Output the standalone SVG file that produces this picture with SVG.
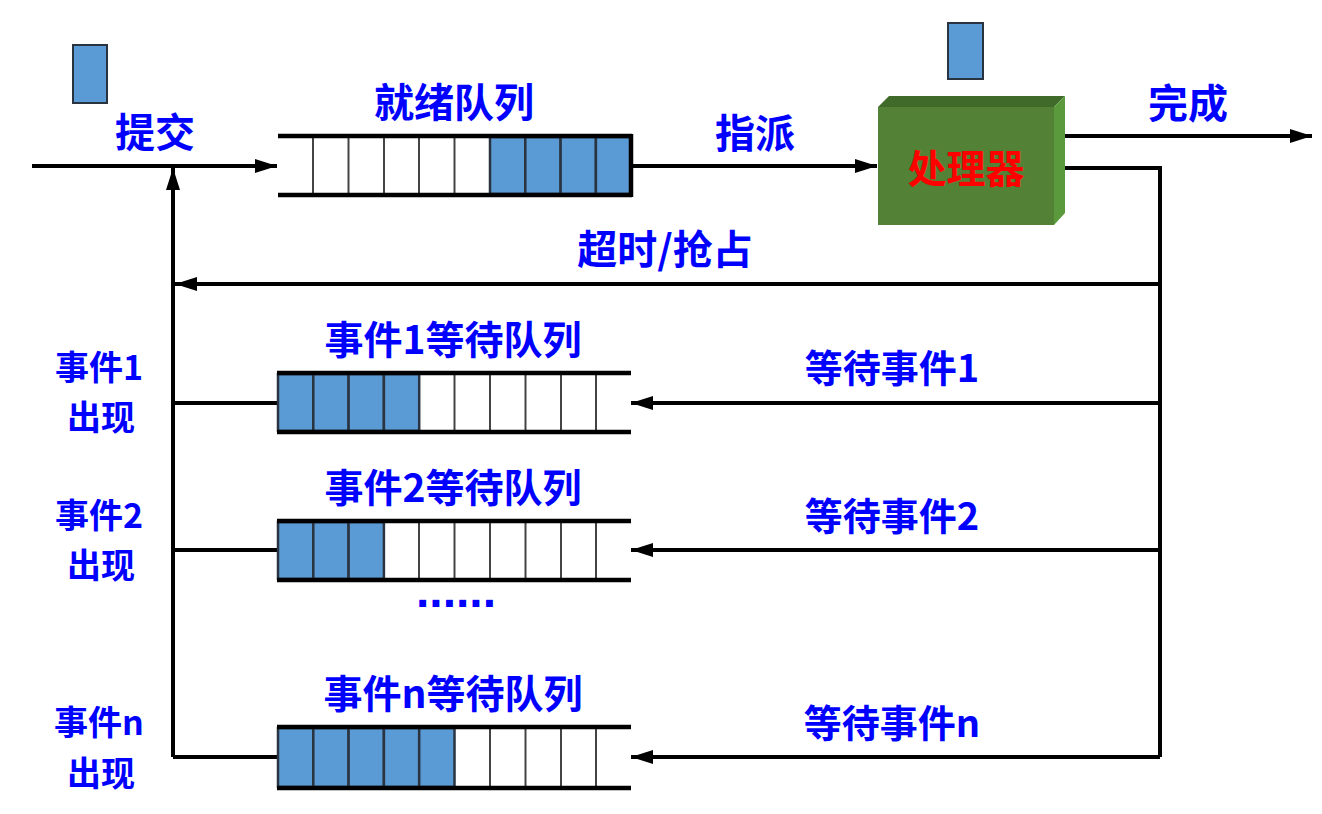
<svg xmlns="http://www.w3.org/2000/svg" width="1322" height="814" viewBox="0 0 1322 814">
<style>
.t{font-family:"Noto Sans CJK SC","Liberation Sans",sans-serif;font-weight:bold;font-size:40px;fill:#0000FF;text-anchor:middle;dominant-baseline:central}
.q{font-size:39px}
.w{font-size:38px}
.s{font-size:34px}
.ln{stroke:#000;stroke-width:4;fill:none}
.cell{fill:#fff;stroke:#444;stroke-width:2}
.bc{fill:#5B9BD5;stroke:#2a3440;stroke-width:2.5}
.rail{stroke:#000;stroke-width:4.5}
</style>
<defs>
<marker id="ah" markerUnits="userSpaceOnUse" markerWidth="22" markerHeight="14" refX="22" refY="7" orient="auto">
<path d="M0,0 L22,7 L0,14 Z" fill="#000"/>
</marker>
</defs>
<g id="connectors">
<line class="ln" x1="32" y1="166" x2="277" y2="166" marker-end="url(#ah)"/>
<line class="ln" x1="631" y1="166" x2="877" y2="166" marker-end="url(#ah)"/>
<line class="ln" x1="1065" y1="136" x2="1312" y2="136" marker-end="url(#ah)"/>
<polyline class="ln" points="1065,168 1160,168 1160,757"/>
<line class="ln" x1="1160" y1="284" x2="175" y2="284" marker-end="url(#ah)"/>
<line class="ln" x1="1160" y1="403" x2="631" y2="403" marker-end="url(#ah)"/>
<line class="ln" x1="1160" y1="550" x2="631" y2="550" marker-end="url(#ah)"/>
<line class="ln" x1="1160" y1="757" x2="631" y2="757" marker-end="url(#ah)"/>
<line class="ln" x1="173" y1="757" x2="173" y2="168" marker-end="url(#ah)"/>
<line class="ln" x1="173" y1="403" x2="278" y2="403"/>
<line class="ln" x1="173" y1="550" x2="278" y2="550"/>
<line class="ln" x1="173" y1="757" x2="278" y2="757"/>
</g>
<g id="job-submit">
<rect x="73" y="45" width="34" height="58" fill="#5B9BD5" stroke="#2a3440" stroke-width="2"/>
<text class="t" x="155" y="130">提交</text>
</g>
<g id="ready-queue">
<line class="cell" x1="313" y1="137" x2="313" y2="195"/>
<line class="cell" x1="348.5" y1="137" x2="348.5" y2="195"/>
<line class="cell" x1="384" y1="137" x2="384" y2="195"/>
<line class="cell" x1="419" y1="137" x2="419" y2="195"/>
<line class="cell" x1="454.5" y1="137" x2="454.5" y2="195"/>
<rect class="bc" x="490" y="137" width="35.3" height="57"/>
<rect class="bc" x="525.3" y="137" width="35.3" height="57"/>
<rect class="bc" x="560.6" y="137" width="35.3" height="57"/>
<rect class="bc" x="595.9" y="137" width="35.1" height="57"/>
<line class="rail" x1="278" y1="136" x2="632" y2="136"/>
<line class="rail" x1="278" y1="195" x2="632" y2="195"/>
<line class="rail" x1="631" y1="134" x2="631" y2="197"/>
<text class="t" x="454" y="100">就绪队列</text>
</g>
<text class="t" x="755" y="131">指派</text>
<g id="processor">
<rect x="948" y="23" width="35" height="56" fill="#5B9BD5" stroke="#2a3440" stroke-width="2"/>
<polygon points="878,107 889,96 1065,96 1054,107" fill="#3f6a29"/>
<polygon points="1054,107 1065,96 1065,213 1054,225" fill="#5b9a3c"/>
<rect x="878" y="107" width="176" height="118" fill="#538135"/>
<text class="t" x="966" y="166" style="fill:#FF0000;font-size:39px">处理器</text>
</g>
<text class="t" x="1188" y="101">完成</text>
<text class="t" x="665" y="247">超时/抢占</text>
<g id="event1-queue">
<rect class="bc" x="278" y="374" width="35.3" height="57"/>
<rect class="bc" x="313.3" y="374" width="35.3" height="57"/>
<rect class="bc" x="348.6" y="374" width="35.3" height="57"/>
<rect class="bc" x="383.9" y="374" width="35.3" height="57"/>
<line class="cell" x1="454.5" y1="374" x2="454.5" y2="432"/>
<line class="cell" x1="490" y1="374" x2="490" y2="432"/>
<line class="cell" x1="525.5" y1="374" x2="525.5" y2="432"/>
<line class="cell" x1="561" y1="374" x2="561" y2="432"/>
<line class="cell" x1="596" y1="374" x2="596" y2="432"/>
<line class="rail" x1="277" y1="373" x2="631" y2="373"/>
<line class="rail" x1="277" y1="432" x2="631" y2="432"/>
<text class="t q" x="453" y="337">事件1等待队列</text>
<text class="t w" x="892" y="365">等待事件1</text>
<text class="t s" x="99" y="365">事件1</text>
<text class="t s" x="101" y="415">出现</text>
</g>
<g id="event2-queue">
<rect class="bc" x="278" y="522" width="35.3" height="57"/>
<rect class="bc" x="313.3" y="522" width="35.3" height="57"/>
<rect class="bc" x="348.6" y="522" width="35.3" height="57"/>
<line class="cell" x1="419" y1="522" x2="419" y2="580"/>
<line class="cell" x1="454.5" y1="522" x2="454.5" y2="580"/>
<line class="cell" x1="490" y1="522" x2="490" y2="580"/>
<line class="cell" x1="525.5" y1="522" x2="525.5" y2="580"/>
<line class="cell" x1="561" y1="522" x2="561" y2="580"/>
<line class="cell" x1="596" y1="522" x2="596" y2="580"/>
<line class="rail" x1="277" y1="521" x2="631" y2="521"/>
<line class="rail" x1="277" y1="580" x2="631" y2="580"/>
<text class="t q" x="453" y="485">事件2等待队列</text>
<text class="t w" x="892" y="513">等待事件2</text>
<text class="t s" x="99" y="513">事件2</text>
<text class="t s" x="101" y="563">出现</text>
</g>
<text x="416" y="607" style="font-family:'Liberation Sans',sans-serif;font-weight:bold;font-size:48px;fill:#0000FF">......</text>
<g id="eventn-queue">
<rect class="bc" x="278" y="728" width="35.3" height="59"/>
<rect class="bc" x="313.3" y="728" width="35.3" height="59"/>
<rect class="bc" x="348.6" y="728" width="35.3" height="59"/>
<rect class="bc" x="383.9" y="728" width="35.3" height="59"/>
<rect class="bc" x="419.2" y="728" width="35.3" height="59"/>
<line class="cell" x1="490" y1="728" x2="490" y2="788"/>
<line class="cell" x1="525.5" y1="728" x2="525.5" y2="788"/>
<line class="cell" x1="561" y1="728" x2="561" y2="788"/>
<line class="cell" x1="596" y1="728" x2="596" y2="788"/>
<line class="rail" x1="277" y1="727" x2="631" y2="727"/>
<line class="rail" x1="277" y1="788" x2="631" y2="788"/>
<text class="t q" x="453" y="691">事件n等待队列</text>
<text class="t w" x="892" y="720">等待事件n</text>
<text class="t s" x="99" y="720">事件n</text>
<text class="t s" x="101" y="771">出现</text>
</g>
</svg>
